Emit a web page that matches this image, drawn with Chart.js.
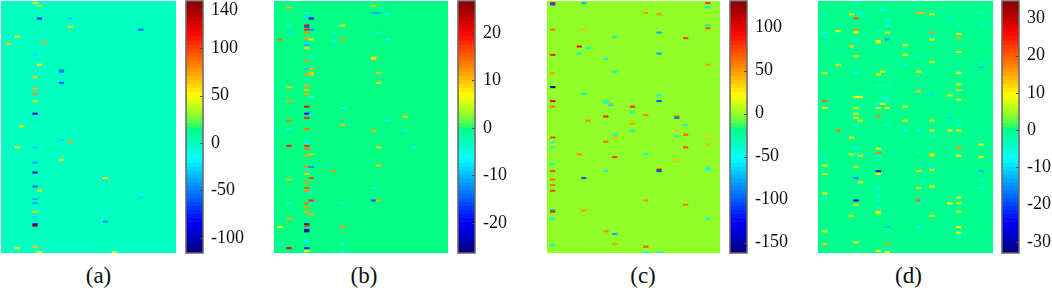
<!DOCTYPE html>
<html>
<head>
<meta charset="utf-8">
<script src="https://cdn.jsdelivr.net/npm/chart.js@4/dist/chart.umd.min.js"></script>
<style>
  html, body { margin: 0; padding: 0; background: #fff; }
  body { position: relative; width: 1052px; height: 290px; overflow: hidden; }
  canvas { position: absolute; filter: blur(0.5px); }
  .caption { position: absolute; top: 263px; width: 60px; text-align: center; font: 23px "Liberation Serif", serif; color: #111; }
</style>
</head>
<body>
<script>
// Matrix size, the same in all four panels
const rowCount = 180;

// Colour bar ranges and tick labels
const rangeA = [-116, 150];
const rangeB = [-26.3, 26.7];
const rangeC = [-162, 131];
const rangeD = [-33, 34.7];
const ticksA = [-100, -50, 0, 50, 100, 140];
const ticksB = [-20, -10, 0, 10, 20];
const ticksC = [-150, -100, -50, 0, 50, 100];
const ticksD = [-30, -20, -10, 0, 10, 20, 30];
const captions = ['(a)', '(b)', '(c)', '(d)'];

// Non-zero cells: [column, row, value]
const cellsA = [
  [8,2,48],[9,4,35],[9,13,-75],[16,13,-30],[16,19,55],[32,21,-55],[4,26,45],[2,31,65],[10,30,75],[8,39,-25],
  [9,46,50],[14,50,-50],[14,51,-50],[8,55,65],[14,59,-60],[8,63,70],[8,67,80],[8,72,38],[8,81,-100],[5,90,47],
  [14,100,-30],[16,101,75],[4,105,55],[8,105,-30],[14,114,45],[8,116,-40],[8,123,-95],[24,127,50],[8,133,-55],
  [9,136,48],[32,141,-30],[8,142,-35],[8,145,-40],[8,151,58],[8,155,-28],[8,160,-100],[8,161,140],[24,158,-45],
  [8,176,68],[4,177,48],[9,180,50],[26,180,50]
];
const cellsB = [
  [3,5,11],[22,4,10],[22,9,-10],[23,9,-10],[25,10,-6],[7,9,-6],[7,12,-8],[8,13,-20],[3,18,-5],[7,18,20],[7,19,-15],
  [15,18,9],[8,21,-12],[7,21,18],[7,23,13],[3,23,-8],[13,23,-4],[23,23,-7],[1,28,14],[7,27,12],[8,28,8],[15,28,12],[13,29,-7],
  [25,28,-5],[7,30,-8],[7,32,-10],[7,34,9],[8,41,-5],[22,41,9],[22,42,9],[7,43,12],[7,49,-9],[8,49,11],[8,52,10],[8,53,10],[7,53,12],
  [23,52,10],[7,57,-5],[23,59,9],[3,62,10],[7,61,11],[7,64,10],[7,67,11],[8,69,-5],[3,72,11],[15,77,-6],[7,76,20],
  [7,81,-20],[8,82,-7],[7,84,18],[3,86,14],[25,86,-5],[29,83,10],[15,89,10],[3,92,-4],[1,93,-3],[7,92,14],[22,93,11],
  [29,93,-4],[7,100,-5],[7,102,-7],[3,104,18],[7,104,17],[7,106,14],[23,105,9],[31,105,-5],[8,110,10],[7,111,11],[7,119,13],
  [8,119,-12],[7,121,-6],[7,124,9],[13,122,12],[23,118,10],[8,127,16],[3,128,10],[7,130,12],[7,134,15],[22,134,-5],[7,136,13],
  [8,137,-5],[8,143,18],[22,143,-15],[23,143,11],[3,145,-5],[7,145,14],[8,145,-6],[15,145,-4],[7,148,12],[7,151,11],[8,153,11],
  [3,156,11],[15,160,-4],[7,160,-22],[7,161,17],[1,162,8],[15,162,12],[7,164,-24],[7,165,-24],[7,172,-7],[1,174,-6],[15,174,-4],
  [3,177,20],[7,177,-18],[7,179,8],[13,179,-3],[15,180,-4]
];
const cellsC = [
  [1,2,95],[1,3,-100],[8,2,-70],[36,2,75],[36,5,-40],[22,9,50],[25,10,55],[36,18,-30],[36,20,70],[1,21,65],[8,21,40],[25,23,-75],
  [15,26,-35],[31,27,75],[7,33,90],[9,34,-38],[7,38,-42],[1,39,85],[25,38,-75],[13,42,-40],[36,46,50],[15,51,-38],
  [1,52,50],[1,62,-150],[8,67,-32],[25,68,-40],[1,72,100],[13,72,-40],[13,73,-40],[25,72,-100],[14,74,45],[14,75,-60],[19,76,80],
  [1,76,60],[19,80,-42],[22,82,55],[13,83,85],[29,83,70],[29,84,-90],[9,86,55],[19,88,50],[31,89,-40],[19,93,-38],[29,93,40],
  [15,96,-45],[31,96,65],[29,97,-42],[1,98,75],[15,98,45],[36,97,35],[1,102,-55],[13,101,65],[36,103,45],[1,103,30],
  [1,105,-40],[31,105,72],[7,110,55],[15,112,80],[22,110,-45],[29,114,40],[1,117,-40],[36,120,-50],[36,121,-50],[1,122,70],
  [13,122,-38],[25,121,95],[25,122,-100],[8,127,-95],[1,128,65],[1,132,60],[1,136,75],[22,143,55],[31,146,60],[8,150,50],
  [1,150,-75],[1,151,85],[1,156,-38],[36,156,-42],[13,165,55],[15,167,-75],[15,174,50],[1,175,-35],[22,176,70],
  [22,180,-50],[25,180,-40]
];
const cellsD = [
  [22,4,-5],[8,2,-5],[14,7,-6],[9,9,-8],[22,9,15],[23,9,14],[25,10,11],[7,10,11],[1,10,-5],[36,9,-5],[8,13,20],[15,14,-6],[29,14,-9],
  [15,18,-5],[31,18,-5],[36,18,-5],[8,21,16],[4,22,9],[8,23,10],[1,23,-7],[13,22,-5],[15,23,11],[25,23,16],[25,25,-9],[31,24,10],
  [31,27,15],[1,28,-10],[8,28,-7],[13,29,10],[13,30,10],[15,28,-15],[25,28,9],[19,32,9],[7,33,12],[13,34,-4],[31,37,10],
  [19,39,10],[22,40,-5],[8,40,12],[25,44,10],[4,46,12],[19,46,-6],[36,45,-5],[36,48,-12],[1,52,11],[8,52,-7],
  [13,53,10],[14,51,9],[22,51,10],[31,51,-7],[31,52,9],[13,61,-4],[15,61,-5],[19,61,-3],[31,60,9],[31,64,13],[22,65,13],
  [8,69,10],[9,69,10],[25,68,-10],[29,68,9],[14,70,-6],[15,70,-5],[1,72,19],[15,72,-4],[31,71,9],[13,74,-7],[14,74,9],
  [19,76,9],[1,77,9],[8,77,10],[13,77,9],[15,77,11],[8,81,11],[8,84,10],[9,86,9],[13,83,17],[29,84,-10],[19,86,11],[25,86,11],
  [31,86,-5],[8,89,-6],[15,89,-5],[31,89,-5],[4,93,18],[19,93,-6],[22,93,-6],[25,93,12],[29,93,11],[31,93,12],[25,97,-4],[7,98,11],
  [36,103,9],[8,105,-6],[13,106,10],[31,105,16],[7,110,10],[8,110,-6],[13,109,18],[13,111,-6],[9,111,12],[13,114,-4],[22,109,-4],
  [25,110,12],[25,111,12],[31,111,11],[1,112,-9],[36,112,11],[1,118,10],[8,119,12],[23,117,-10],[25,119,-9],[25,121,11],
  [13,122,-25],[13,124,9],[22,122,12],[36,122,-12],[1,124,9],[8,127,-15],[9,130,9],[36,128,-5],[23,130,-4],[13,134,-6],[22,134,11],
  [25,133,10],[36,134,-5],[1,138,10],[1,141,-5],[13,140,-5],[31,141,9],[25,141,-3],[8,143,-28],[22,143,19],[23,143,-4],[13,143,-5],
  [22,145,-5],[8,146,9],[29,145,10],[31,145,12],[13,148,-6],[13,151,11],[13,152,11],[31,151,10],[7,154,10],[25,154,10],[15,162,-12],
  [22,162,-8],[31,162,10],[1,165,9],[31,166,10],[31,169,-4],[1,174,13],[8,173,9],[15,174,16],[15,177,-5],[13,179,9],[15,180,10]
];

// Jet colour map, nudged around the middle to the green the bars show
const colourStops = [
  [0, 0, 0, 130], [0.125, 0, 0, 255], [0.375, 0, 255, 255], [0.5, 0, 255, 128], [0.51, 70, 255, 90],
  [0.553, 144, 255, 40], [0.625, 255, 255, 0], [0.875, 255, 0, 0], [1, 128, 0, 0]
];

function colourAt(f) {
  f = Math.min(1, Math.max(0, f));
  for (let i = 1; i < colourStops.length; i++) {
    const a = colourStops[i - 1], b = colourStops[i];
    if (f <= b[0]) {
      const t = (f - a[0]) / (b[0] - a[0]);
      return 'rgb(' + [1, 2, 3].map((k) => Math.round(a[k] + (b[k] - a[k]) * t)).join(',') + ')';
    }
  }
}

function addCanvas(left, top, width, height) {
  const canvas = document.createElement('canvas');
  canvas.style.left = left + 'px';
  canvas.style.top = top + 'px';
  canvas.style.width = width + 'px';
  canvas.style.height = height + 'px';
  canvas.width = width;
  canvas.height = height;
  document.body.appendChild(canvas);
  return canvas;
}

// Heat map: one floating bar per non-zero cell, on a solid background of the zero colour
function drawHeatmap(panel) {
  const [lo, hi] = panel.range;
  const canvas = addCanvas(panel.left, 1, panel.width, 252);
  canvas.style.background = colourAt((0 - lo) / (hi - lo));
  new Chart(canvas, {
    type: 'bar',
    data: {
      datasets: [{
        data: panel.cells.map((c) => ({ x: c[0], y: [c[1] - 1, c[1]] })),
        backgroundColor: panel.cells.map((c) => colourAt((c[2] - lo) / (hi - lo))),
        barThickness: 4.6,
        borderWidth: 0
      }]
    },
    options: {
      responsive: false,
      animation: false,
      plugins: { legend: { display: false }, tooltip: { enabled: false } },
      layout: { padding: 0 },
      scales: {
        x: { type: 'linear', display: false, offset: false, min: panel.xMin, max: panel.xMax },
        y: { type: 'linear', display: false, reverse: true, min: 0, max: rowCount }
      }
    }
  });
}

// Frame and the small inside tick marks of the colour bar
const barFrame = {
  id: 'barFrame',
  afterDatasetsDraw(chart) {
    const { ctx, chartArea: area, scales } = chart;
    ctx.save();
    ctx.strokeStyle = '#444';
    ctx.lineWidth = 1;
    scales.y.ticks.forEach((tick) => {
      const y = Math.round(scales.y.getPixelForValue(tick.value)) + 0.5;
      ctx.beginPath();
      ctx.moveTo(area.right - 3, y);
      ctx.lineTo(area.right, y);
      ctx.stroke();
    });
    ctx.strokeStyle = '#666';
    ctx.lineWidth = 1.5;
    ctx.strokeRect(area.left, area.top, area.right - area.left, area.bottom - area.top);
    ctx.restore();
  }
};

function drawColourBar(panel) {
  const [lo, hi] = panel.range;
  const levels = Array.from({ length: 64 }, (_, i) => i);
  const step = (hi - lo) / levels.length;
  const canvas = addCanvas(panel.barLeft - 2, 0, 62, 254);
  new Chart(canvas, {
    type: 'bar',
    data: {
      labels: ['bar'],
      datasets: [{
        data: levels.map((i) => ({ x: 'bar', y: [lo + i * step, lo + (i + 1) * step] })),
        backgroundColor: levels.map((i) => colourAt((i + 0.5) / levels.length)),
        barPercentage: 1,
        categoryPercentage: 1,
        borderWidth: 0
      }]
    },
    options: {
      responsive: false,
      animation: false,
      plugins: { legend: { display: false }, tooltip: { enabled: false } },
      layout: { padding: { left: 2, top: 1, bottom: 1, right: 0 } },
      scales: {
        x: { display: false },
        y: {
          position: 'right',
          min: lo,
          max: hi,
          grid: { drawOnChartArea: false, drawTicks: false },
          border: { display: false },
          afterBuildTicks(scale) {
            scale.ticks = panel.ticks.map((value) => ({ value }));
          },
          afterFit(scale) {
            // fixed axis width, and no extra room for the end labels
            scale.width = 43;
            scale.paddingTop = 0;
            scale.paddingBottom = 0;
          },
          ticks: {
            autoSkip: false,
            padding: 8,
            color: '#111',
            font: { family: '"Liberation Serif"', size: 18 }
          }
        }
      }
    },
    plugins: [barFrame]
  });
}

const panels = [
  { cells: cellsA, range: rangeA, ticks: ticksA, left: 1, width: 175, xMin: 0.25, xMax: 40.02, barLeft: 186, captionAt: 98.5 },
  { cells: cellsB, range: rangeB, ticks: ticksB, left: 274, width: 174, xMin: -0.34, xMax: 38.59, barLeft: 458, captionAt: 364 },
  { cells: cellsC, range: rangeC, ticks: ticksC, left: 547, width: 173, xMin: -0.3, xMax: 38.75, barLeft: 730, captionAt: 643 },
  { cells: cellsD, range: rangeD, ticks: ticksD, left: 818, width: 175, xMin: -0.5, xMax: 38.65, barLeft: 1002, captionAt: 908.5 }
];

panels.forEach((panel, i) => {
  drawHeatmap(panel);
  drawColourBar(panel);
  const caption = document.createElement('div');
  caption.className = 'caption';
  caption.style.left = (panel.captionAt - 30) + 'px';
  caption.textContent = captions[i];
  document.body.appendChild(caption);
});
</script>
</body>
</html>
